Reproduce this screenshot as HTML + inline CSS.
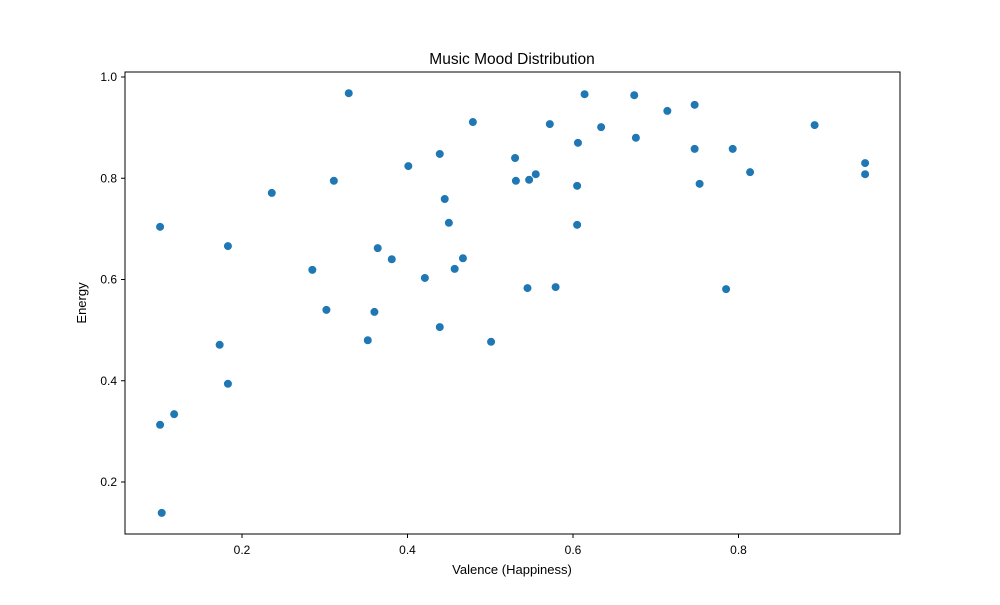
<!DOCTYPE html>
<html><head><meta charset="utf-8"><style>
body{margin:0;background:#fff;font-family:"Liberation Sans","DejaVu Sans",sans-serif}
</style></head><body>
<svg id="chart" width="1000" height="600" xmlns="http://www.w3.org/2000/svg">
<rect x="0" y="0" width="1000" height="600" fill="#fff"/>
<text x="512" y="64" text-anchor="middle" font-size="15.5" fill="#000">Music Mood Distribution</text>
<g id="points"></g>
<g id="axes"></g>
<rect x="125" y="72" width="775" height="462" fill="none" stroke="#000" stroke-width="1"/>
<text x="512" y="574" text-anchor="middle" font-size="13">Valence (Happiness)</text>
<text x="0" y="0" text-anchor="middle" font-size="13" transform="translate(86,303) rotate(-90)">Energy</text>
</svg>
<script>
const valence=[0.101,0.101,0.103,0.118,0.173,0.183,0.183,0.236,0.285,0.302,0.311,0.329,0.352,0.360,0.364,0.381,0.401,0.421,0.439,0.439,0.445,0.450,0.457,0.467,0.479,0.501,0.530,0.531,0.545,0.547,0.555,0.572,0.579,0.605,0.605,0.606,0.614,0.634,0.674,0.676,0.714,0.747,0.747,0.753,0.785,0.793,0.814,0.892,0.953,0.953];
const energy=[0.704,0.313,0.139,0.334,0.471,0.666,0.394,0.771,0.619,0.540,0.795,0.968,0.480,0.536,0.662,0.640,0.824,0.603,0.848,0.506,0.759,0.712,0.621,0.642,0.911,0.477,0.840,0.795,0.583,0.797,0.808,0.907,0.585,0.785,0.708,0.870,0.966,0.901,0.964,0.880,0.933,0.945,0.858,0.789,0.581,0.858,0.812,0.905,0.830,0.808];
const xTicks=[0.2,0.4,0.6,0.8];
const yTicks=[0.2,0.4,0.6,0.8,1.0];
const NS="http://www.w3.org/2000/svg";
function xs(v){return 76.5+v*827.5;}
function ys(v){return 77+(1-v)*506.25;}
const pg=document.getElementById('points');
for(let i=0;i<valence.length;i++){
  const c=document.createElementNS(NS,'circle');
  c.setAttribute('cx',xs(valence[i]));c.setAttribute('cy',ys(energy[i]));
  c.setAttribute('r',4.3);c.setAttribute('fill','#1f77b4');
  c.setAttribute('stroke','#fff');c.setAttribute('stroke-width','0.6');
  
  
  pg.appendChild(c);
}
const ag=document.getElementById('axes');
xTicks.forEach(t=>{
  const x=xs(t);
  const l=document.createElementNS(NS,'line');
  l.setAttribute('x1',x);l.setAttribute('x2',x);l.setAttribute('y1',534);l.setAttribute('y2',538);l.setAttribute('stroke','#000');
  
  
  ag.appendChild(l);
  const tx=document.createElementNS(NS,'text');
  tx.setAttribute('x',x);tx.setAttribute('y',554);tx.setAttribute('text-anchor','middle');tx.setAttribute('font-size','12');
  tx.textContent=t.toFixed(1);
  
  
  ag.appendChild(tx);
});
yTicks.forEach(t=>{
  const y=ys(t);
  const l=document.createElementNS(NS,'line');
  l.setAttribute('x1',121);l.setAttribute('x2',125);l.setAttribute('y1',y);l.setAttribute('y2',y);l.setAttribute('stroke','#000');
  
  
  ag.appendChild(l);
  const tx=document.createElementNS(NS,'text');
  tx.setAttribute('x',117);tx.setAttribute('y',y+4);tx.setAttribute('text-anchor','end');tx.setAttribute('font-size','12');
  tx.textContent=t.toFixed(1);
  
  
  ag.appendChild(tx);
});
</script>
</body></html>
